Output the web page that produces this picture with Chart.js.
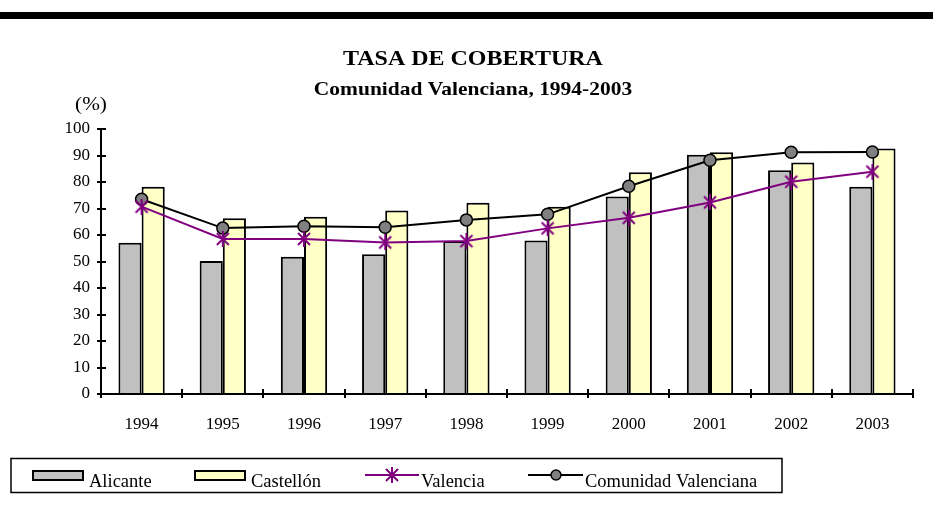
<!DOCTYPE html>
<html>
<head>
<meta charset="utf-8">
<script src="https://cdn.jsdelivr.net/npm/chart.js@4"></script>
<style>
  body { margin: 0; background: #fff; }
  #wrap { width: 933px; height: 510px; }
</style>
</head>
<body>
<div id="wrap"><canvas id="myChart" width="933" height="510"></canvas></div>
<script>
// Datos del gráfico
const years = ['1994', '1995', '1996', '1997', '1998', '1999', '2000', '2001', '2002', '2003'];
const alicante = [57.1, 50.2, 51.8, 52.7, 57.7, 57.9, 74.5, 90.3, 84.4, 78.2];
const castellon = [78.2, 66.3, 66.9, 69.2, 72.2, 70.7, 83.7, 91.2, 87.4, 92.6];
const valencia = [70.7, 58.5, 58.5, 57.2, 57.7, 62.5, 66.5, 72.3, 80.1, 83.9];
const comunidad = [73.5, 62.6, 63.3, 62.9, 65.7, 67.8, 78.4, 88.2, 91.2, 91.3];
const yTicks = [0, 10, 20, 30, 40, 50, 60, 70, 80, 90, 100];

const serif = '"Liberation Serif", "Times New Roman", serif';

// Marcador tipo asterisco (X con línea vertical)
function starMarker(size, color) {
    const c = document.createElement('canvas');
    c.width = size; c.height = size;
    const g = c.getContext('2d');
    g.strokeStyle = color;
    g.lineWidth = 2;
    g.beginPath();
    g.moveTo(2, 2); g.lineTo(size - 2, size - 2);
    g.moveTo(size - 2, 2); g.lineTo(2, size - 2);
    g.moveTo(size / 2, 0); g.lineTo(size / 2, size);
    g.stroke();
    return c;
}
const star = starMarker(16, '#800080');

// texto estirado en horizontal
function wideText(ctx, text, x, y, sx) {
    ctx.save();
    ctx.translate(x, y);
    ctx.scale(sx, 1);
    ctx.fillText(text, 0, 0);
    ctx.restore();
}

// Plugin: fondo, barra superior, títulos, ejes y leyenda
const decor = {
    id: 'decor',
    beforeDraw(chart) {
        const ctx = chart.ctx;
        ctx.save();
        ctx.fillStyle = '#fff';
        ctx.fillRect(0, 0, chart.width, chart.height);
        ctx.fillStyle = '#000';
        ctx.fillRect(0, 12, chart.width, 7);
        ctx.textAlign = 'center';
        ctx.textBaseline = 'alphabetic';
        ctx.font = 'bold 22px ' + serif;
        wideText(ctx, 'TASA DE COBERTURA', 473, 65, 1.09);
        ctx.font = 'bold 19px ' + serif;
        wideText(ctx, 'Comunidad Valenciana, 1994-2003', 473, 95, 1.13);
        ctx.font = '19px ' + serif;
        wideText(ctx, '(%)', 91, 110, 1.12);
        ctx.restore();
    },
    afterDraw(chart) {
        const ctx = chart.ctx;
        const y = chart.scales.y;
        const area = chart.chartArea;
        ctx.save();
        ctx.strokeStyle = '#000';
        ctx.lineWidth = 2;
        ctx.beginPath();
        ctx.moveTo(area.left, area.top);
        ctx.lineTo(area.left, area.bottom);
        ctx.lineTo(area.right, area.bottom);
        yTicks.forEach(v => {
            const py = Math.round(y.getPixelForValue(v));
            ctx.moveTo(area.left - 4, py);
            ctx.lineTo(area.left + 5, py);
        });
        const step = (area.right - area.left) / years.length;
        for (let i = 0; i <= years.length; i++) {
            const px = Math.round(area.left + i * step);
            ctx.moveTo(px, area.bottom - 5);
            ctx.lineTo(px, area.bottom + 4);
        }
        ctx.stroke();

        // Leyenda
        const ds = chart.data.datasets;
        ctx.lineWidth = 1.5;
        ctx.strokeRect(11, 458.5, 771, 34);
        ctx.font = '18.5px ' + serif;
        ctx.textAlign = 'left';
        ctx.textBaseline = 'middle';
        ctx.fillStyle = '#000';
        const ty = 482;
        // barras
        [[ds[0], 33, 89], [ds[1], 195, 251]].forEach(([d, sx, tx]) => {
            ctx.fillStyle = d.backgroundColor;
            ctx.fillRect(sx, 471, 50, 9);
            ctx.strokeStyle = '#000';
            ctx.lineWidth = 2;
            ctx.strokeRect(sx, 471, 50, 9);
            ctx.fillStyle = '#000';
            ctx.fillText(d.label, tx, ty);
        });
        // líneas
        ctx.strokeStyle = ds[2].borderColor;
        ctx.lineWidth = 2;
        ctx.beginPath(); ctx.moveTo(365, 475); ctx.lineTo(419, 475); ctx.stroke();
        ctx.drawImage(star, 392 - 8, 475 - 8);
        ctx.fillText(ds[2].label, 421, ty);
        ctx.strokeStyle = '#000';
        ctx.beginPath(); ctx.moveTo(528, 475); ctx.lineTo(583, 475); ctx.stroke();
        ctx.beginPath(); ctx.arc(556, 475, 5, 0, Math.PI * 2);
        ctx.fillStyle = ds[3].pointBackgroundColor;
        ctx.fill();
        ctx.lineWidth = 1.5;
        ctx.stroke();
        ctx.fillStyle = '#000';
        ctx.fillText(ds[3].label, 585, ty);
        ctx.restore();
    }
};

const ctx = document.getElementById('myChart').getContext('2d');
const myChart = new Chart(ctx, {
    type: 'bar',
    data: {
        labels: years,
        datasets: [
            {
                label: 'Alicante',
                data: alicante,
                backgroundColor: '#C0C0C0',
                borderColor: '#000',
                borderWidth: 2,
                order: 3
            },
            {
                label: 'Castellón',
                data: castellon,
                backgroundColor: '#FFFFC6',
                borderColor: '#000',
                borderWidth: 2,
                order: 3
            },
            {
                type: 'line',
                label: 'Valencia',
                data: valencia,
                borderColor: '#800080',
                borderWidth: 2,
                pointStyle: star,
                tension: 0,
                order: 1
            },
            {
                type: 'line',
                label: 'Comunidad Valenciana',
                data: comunidad,
                borderColor: '#000',
                borderWidth: 2,
                pointStyle: 'circle',
                pointRadius: 6,
                pointBackgroundColor: '#808080',
                pointBorderColor: '#000',
                pointBorderWidth: 1.5,
                tension: 0,
                order: 2
            }
        ]
    },
    options: {
        responsive: false,
        animation: false,
        layout: { padding: { top: 129, right: 20, bottom: 76, left: 0 } },
        datasets: {
            bar: { categoryPercentage: 0.57, barPercentage: 1 }
        },
        scales: {
            x: {
                offset: true,
                grid: { display: false, drawTicks: false },
                border: { display: false },
                ticks: { color: '#000', font: { family: serif, size: 17 }, padding: 20 },
                afterFit(scale) { scale.height = 40; }
            },
            y: {
                min: 0,
                max: 100,
                grid: { display: false, drawTicks: false },
                border: { display: false },
                ticks: { stepSize: 10, color: '#000', font: { family: serif, size: 17 }, padding: 11 },
                afterFit(scale) { scale.width = 101; }
            }
        },
        plugins: {
            legend: { display: false },
            tooltip: { enabled: false }
        }
    },
    plugins: [decor]
});
</script>
</body>
</html>
